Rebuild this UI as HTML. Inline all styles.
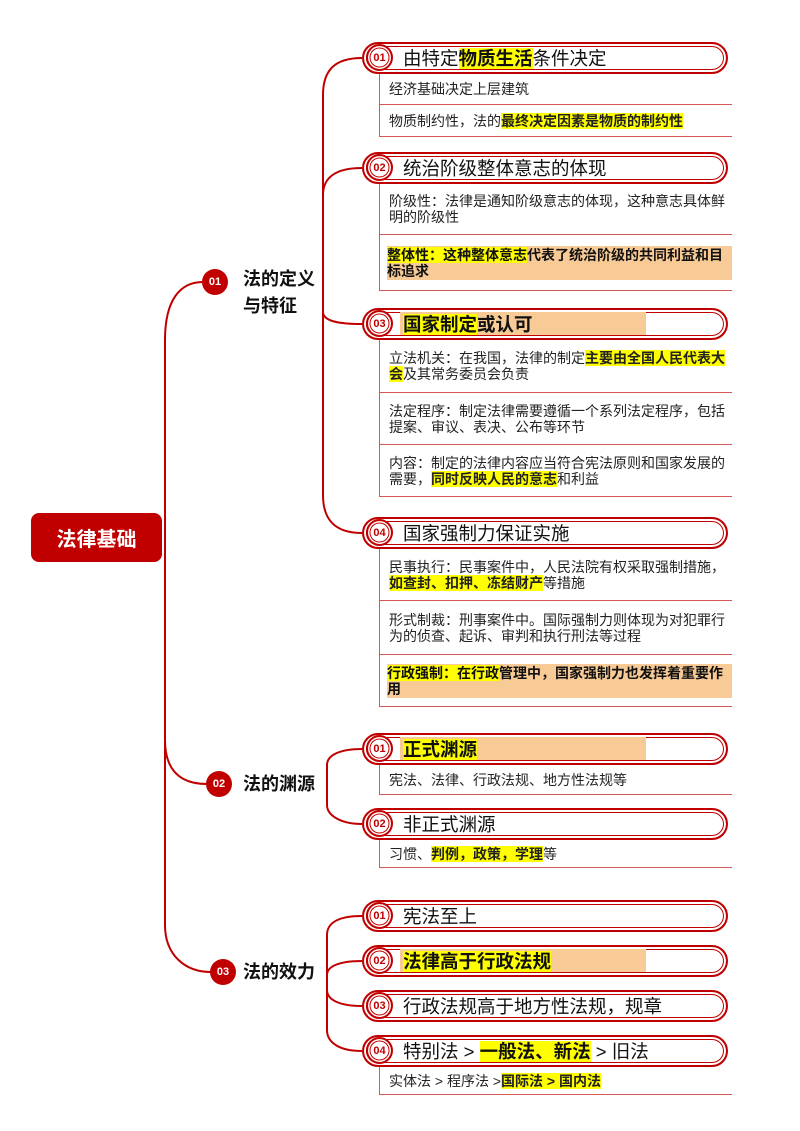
<!DOCTYPE html>
<html><head><meta charset="utf-8"><style>
*{margin:0;padding:0;box-sizing:border-box}
body{width:800px;height:1131px;background:#fff;position:relative;overflow:hidden;font-family:"Liberation Sans","Noto Sans CJK SC",sans-serif;color:#222}
.abs{position:absolute}
.root{left:31px;top:513px;width:131px;height:49px;background:#c00000;border-radius:8px;color:#fff;font-weight:bold;font-size:20px;display:flex;align-items:center;justify-content:center}
.c1{width:26px;height:26px;border-radius:50%;background:#c00000;color:#fff;font-size:11px;font-weight:bold;display:flex;align-items:center;justify-content:center}
.l1{font-weight:bold;font-size:18px;color:#111;line-height:27px}
.pill{left:362px;width:366px;height:32px;border:2.5px solid #c00000;border-radius:16px;box-shadow:inset 0 0 0 2px #fff,inset 0 0 0 3px #c00000;background:#fff}
.badge{position:absolute;left:2px;top:0px;width:27px;height:27px;border-radius:50%;border:2.5px solid #c00000;box-shadow:inset 0 0 0 1.5px #fff,inset 0 0 0 2.5px #c00000;font-size:11px;font-weight:bold;color:#c00000;display:flex;align-items:center;justify-content:center;background:#fff}
.ht{position:absolute;left:39px;top:0;height:28px;line-height:29px;font-size:18.5px;color:#111;white-space:nowrap}
.org{position:absolute;left:36px;top:2px;height:23px;background:#f8cb96}
.y{background:#ffff00;font-weight:bold}
.box{left:379px;width:353px;border-left:1.5px solid #d45a5a}
.row{border-bottom:1.5px solid #d45a5a;font-size:14px;line-height:16px;padding:0 0 0 9px;display:flex;align-items:center;color:#222}
.row.o span.bg{background:#f8cb96;display:block;width:100%;font-weight:bold;padding:1px 0;color:#111}
b{font-weight:bold;color:#111}
</style></head><body>
<svg class="abs" style="left:0;top:0" width="800" height="1131">
<g fill="none" stroke="#c00000" stroke-width="2">
<path d="M165 520 L165 340 C165 300 180 282 203 282"/>
<path d="M165 520 L165 740 C165 770 180 784 207 784"/>
<path d="M165 740 L165 925 C165 955 185 972 211 972"/>
<path d="M323 300 L323 95 C323 70 335 58 362 58"/>
<path d="M323 300 L323 195 C323 178 335 168 362 168"/>
<path d="M323 300 L323 312 C323 320 335 324 362 324"/>
<path d="M323 300 L323 495 C323 520 335 533 362 533"/>
<path d="M327 784 L327 765 C327 755 340 749 362 749"/>
<path d="M327 784 L327 805 C327 815 340 824 362 824"/>
<path d="M327 980 L327 935 C327 922 340 916 362 916"/>
<path d="M327 980 L327 975 C327 966 340 961 362 961"/>
<path d="M327 980 L327 990 C327 1000 340 1006 362 1006"/>
<path d="M327 980 L327 1030 C327 1043 340 1051 362 1051"/>
</g></svg>
<div class="abs root">法律基础</div>
<div class="abs c1" style="left:202px;top:269px">01</div>
<div class="abs l1" style="left:243px;top:266px">法的定义<br>与特征</div>
<div class="abs c1" style="left:206px;top:771px">02</div>
<div class="abs l1" style="left:243px;top:771px">法的渊源</div>
<div class="abs c1" style="left:210px;top:959px">03</div>
<div class="abs l1" style="left:243px;top:959px">法的效力</div>

<div class="abs pill" style="top:42px"><div class="badge">01</div><div class="ht">由特定<span class="y">物质生活</span>条件决定</div></div>
<div class="abs box" style="top:74px">
<div class="row" style="height:31px">经济基础决定上层建筑</div>
<div class="row" style="height:32px">物质制约性，法的<span class="y">最终决定因素是物质的制约性</span></div></div>

<div class="abs pill" style="top:152px"><div class="badge">02</div><div class="ht">统治阶级整体意志的体现</div></div>
<div class="abs box" style="top:184px">
<div class="row" style="height:51px">阶级性：法律是通知阶级意志的体现，这种意志具体鲜明的阶级性</div>
<div class="row o" style="height:56px;padding-left:7px"><span class="bg"><span class="y">整体性：这种整体意志</span>代表了统治阶级的共同利益和目标追求</span></div></div>

<div class="abs pill" style="top:308px"><div class="badge">03</div><div class="org" style="width:246px"></div><div class="ht"><b><span class="y">国家制定</span>或认可</b></div></div>
<div class="abs box" style="top:340px">
<div class="row" style="height:53px"><div>立法机关：在我国，法律的制定<span class="y">主要由全国人民代表大会</span>及其常务委员会负责</div></div>
<div class="row" style="height:52px">法定程序：制定法律需要遵循一个系列法定程序，包括提案、审议、表决、公布等环节</div>
<div class="row" style="height:52px"><div>内容：制定的法律内容应当符合宪法原则和国家发展的需要，<span class="y">同时反映人民的意志</span>和利益</div></div></div>

<div class="abs pill" style="top:517px"><div class="badge">04</div><div class="ht">国家强制力保证实施</div></div>
<div class="abs box" style="top:549px">
<div class="row" style="height:52px"><div>民事执行：民事案件中，人民法院有权采取强制措施，<span class="y">如查封、扣押、冻结财产</span>等措施</div></div>
<div class="row" style="height:54px">形式制裁：刑事案件中。国际强制力则体现为对犯罪行为的侦查、起诉、审判和执行刑法等过程</div>
<div class="row o" style="height:52px;padding-left:7px"><span class="bg"><span class="y">行政强制：在行政</span>管理中，国家强制力也发挥着重要作用</span></div></div>

<div class="abs pill" style="top:733px"><div class="badge">01</div><div class="org" style="width:246px"></div><div class="ht"><b><span class="y">正式渊源</span></b></div></div>
<div class="abs box" style="top:765px">
<div class="row" style="height:30px">宪法、法律、行政法规、地方性法规等</div></div>

<div class="abs pill" style="top:808px"><div class="badge">02</div><div class="ht">非正式渊源</div></div>
<div class="abs box" style="top:840px">
<div class="row" style="height:28px">习惯、<span class="y">判例，政策，学理</span>等</div></div>

<div class="abs pill" style="top:900px"><div class="badge">01</div><div class="ht">宪法至上</div></div>
<div class="abs pill" style="top:945px"><div class="badge">02</div><div class="org" style="width:246px"></div><div class="ht"><b><span class="y">法律高于行政法规</span></b></div></div>
<div class="abs pill" style="top:990px"><div class="badge">03</div><div class="ht">行政法规高于地方性法规，规章</div></div>
<div class="abs pill" style="top:1035px"><div class="badge">04</div><div class="ht">特别法 &gt; <span class="y">一般法、新法</span> &gt; 旧法</div></div>
<div class="abs box" style="top:1067px">
<div class="row" style="height:28px">实体法 &gt; 程序法 &gt; <span class="y">国际法 &gt; 国内法</span></div></div>
</body></html>
